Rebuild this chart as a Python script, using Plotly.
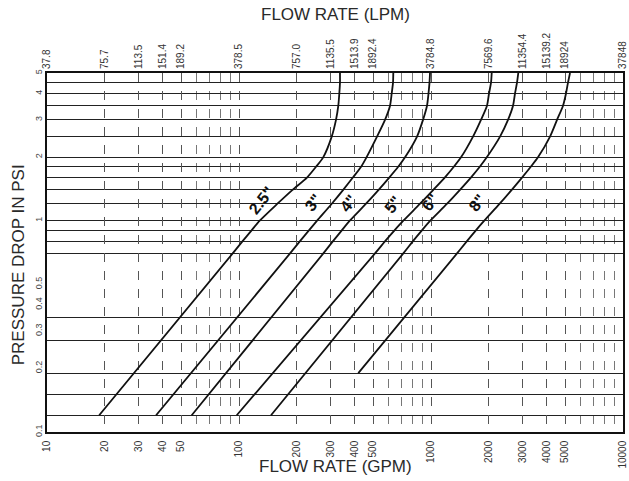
import math
import plotly.graph_objects as go

# ---------------- data ----------------
gpm_ticks = [10, 20, 30, 40, 50, 100, 200, 300, 400, 500, 1000, 2000, 3000, 4000, 5000, 10000]
gpm_labels = ["10", "20", "30", "40", "50", "100", "200", "300", "400", "500",
              "1000", "2000", "3000", "4000", "5000", "10000"]
lpm_labels = ["37.8", "75.7", "113.5", "151.4", "189.2", "378.5", "757.0", "1135.5",
              "1513.9", "1892.4", "3784.8", "7569.6", "11354.4", "15139.2", "18924", "37848"]
gpm_minor = [60, 70, 80, 90, 600, 700, 800, 900, 6000, 7000, 8000, 9000]

psi_ticks = [0.1, 0.2, 0.3, 0.4, 0.5, 1, 2, 3, 4, 5]
psi_labels = ["0.1", "0.2", "0.3", "0.4", "0.5", "1", "2", "3", "4", "5"]
psi_grid = [0.12, 0.15, 0.19, 0.27, 0.35, 0.7, 0.8, 0.9, 1, 1.2, 1.4, 1.6, 1.8,
            2, 2.5, 3, 3.5, 4, 4.5]

psi_levels = [0.12, 0.7, 0.8, 0.9, 1.0, 1.2, 1.4, 1.6, 1.8,
              2.0, 2.5, 3.0, 3.5, 4.0, 4.5, 5.0]
psi_levels_8 = [0.19, 0.7, 0.8, 0.9, 1.0, 1.2, 1.4, 1.6, 1.8,
                2.0, 2.5, 3.0, 3.5, 4.0, 4.5, 5.0]

flow_2_5 = [18.7, 92.7, 104.4, 116.3, 128.2, 158.0, 190.0, 226.0,
            252.0, 274.9, 304.0, 320.0, 329.0, 333.0, 335.7, 335.7]
flow_3 = [37.0, 184.4, 207.8, 231.3, 255.0, 303.4, 348.9, 391.8,
          432.4, 462.0, 523.3, 576.0, 611.7, 624.2, 634.1, 636.3]
flow_4 = [56.7, 274.9, 308.8, 343.0, 377.6, 457.5, 533.6, 605.9,
          674.6, 733.8, 845.5, 908.5, 953.2, 970.5, 982.2, 988.1]
flow_5 = [97.3, 510.9, 576.9, 645.5, 717.3, 874.7, 1028, 1179,
          1315, 1436, 1655, 1821, 1957, 2005, 2054, 2071]
flow_6 = [146.8, 717.3, 805.5, 896.7, 991.3, 1209, 1415, 1613,
          1795, 1956, 2288, 2518, 2674, 2738, 2805, 2849]
flow_8 = [418.1, 1366, 1539, 1713, 1894, 2273, 2633, 2979,
          3309, 3614, 4167, 4532, 4870, 5048, 5170, 5297]

pipe_names = ['2.5"', '3"', '4"', '5"', '6"', '8"']
label_flow = [131, 244, 371, 636, 989, 1730]
label_psi = [1.24, 1.22, 1.21, 1.19, 1.22, 1.21]

# ---------------- figure ----------------
series = [(flow_2_5, psi_levels), (flow_3, psi_levels), (flow_4, psi_levels),
          (flow_5, psi_levels), (flow_6, psi_levels), (flow_8, psi_levels_8)]

fig = go.Figure()
for name, (fx, fy) in zip(pipe_names, series):
    fig.add_trace(go.Scatter(
        x=fx, y=fy, mode="lines", name=name,
        line=dict(color="#111111", width=1.8, shape="spline", smoothing=0.7),
        showlegend=False, hoverinfo="x+y+name"))

# dummy trace to carry the top (LPM) axis
fig.add_trace(go.Scatter(x=[gpm_ticks[0], gpm_ticks[-1]], y=[psi_ticks[0], psi_ticks[0]],
                         xaxis="x2", mode="markers", marker=dict(opacity=0),
                         showlegend=False, hoverinfo="skip"))

FONT = "Liberation Sans, Arial, sans-serif"
tick_font = dict(family=FONT, size=10, color="#333333")

fig.update_layout(
    width=629, height=481,
    margin=dict(l=47, r=6, t=73, b=49, autoexpand=False),
    paper_bgcolor="white", plot_bgcolor="white",
    xaxis=dict(
        type="log", range=[math.log10(gpm_ticks[0]), math.log10(gpm_ticks[-1])],
        tickmode="array", tickvals=gpm_ticks, ticktext=gpm_labels,
        tickangle=-90, tickfont=tick_font, ticks="", ticklabelstandoff=3,
        ticklabeloverflow="allow", automargin=False,
        showgrid=True, gridcolor="#555555", griddash="dash", gridwidth=1,
        minor=dict(tickmode="array", tickvals=gpm_minor, showgrid=True,
                   gridcolor="#777777", griddash="dash", gridwidth=1, ticks=""),
        showline=True, linecolor="#111111", linewidth=1.6, mirror=True,
        zeroline=False,
    ),
    xaxis2=dict(
        type="log", range=[math.log10(gpm_ticks[0]), math.log10(gpm_ticks[-1])],
        overlaying="x", side="top", anchor="y",
        tickmode="array", tickvals=gpm_ticks, ticktext=lpm_labels,
        tickangle=-90, tickfont=tick_font, ticks="", ticklabelstandoff=3,
        ticklabeloverflow="allow", automargin=False,
        showgrid=False, showline=False, zeroline=False,
    ),
    yaxis=dict(
        type="log", range=[math.log10(psi_ticks[0]), math.log10(psi_ticks[-1])],
        tickmode="array", tickvals=psi_ticks, ticktext=psi_labels,
        tickangle=-90, tickfont=dict(family=FONT, size=9, color="#444444"), ticks="",
        ticklabeloverflow="allow", automargin=False,
        showgrid=False,
        minor=dict(tickmode="array", tickvals=psi_grid, showgrid=True,
                   gridcolor="#222222", gridwidth=1.4, ticks=""),
        showline=True, linecolor="#111111", linewidth=1.6, mirror=True,
        zeroline=False,
    ),
    annotations=[
        dict(text="FLOW RATE (LPM)", xref="paper", yref="paper", x=0.5, y=1.162,
             showarrow=False, font=dict(family=FONT, size=17, color="#2a2a2a"),
             xanchor="center", yanchor="middle"),
        dict(text="FLOW RATE (GPM)", xref="paper", yref="paper", x=0.5, y=-0.095,
             showarrow=False, font=dict(family=FONT, size=17, color="#2a2a2a"),
             xanchor="center", yanchor="middle"),
        dict(text="PRESSURE DROP IN PSI", xref="paper", yref="paper", x=-0.05, y=0.465,
             showarrow=False, textangle=-90,
             font=dict(family=FONT, size=17, color="#2a2a2a"),
             xanchor="center", yanchor="middle"),
    ],
)

for name, fx, fy in zip(pipe_names, label_flow, label_psi):
    fig.add_annotation(text="<b>" + name + "</b>", x=math.log10(fx), y=math.log10(fy),
                       xref="x", yref="y", showarrow=False, textangle=-52,
                       font=dict(family=FONT, size=16, color="#111111"),
                       xanchor="center", yanchor="middle")

fig.write_html("out.html",
               config={"displayModeBar": False},
               post_script="document.body.style.margin='0';"
                           "document.body.style.overflow='hidden';")
